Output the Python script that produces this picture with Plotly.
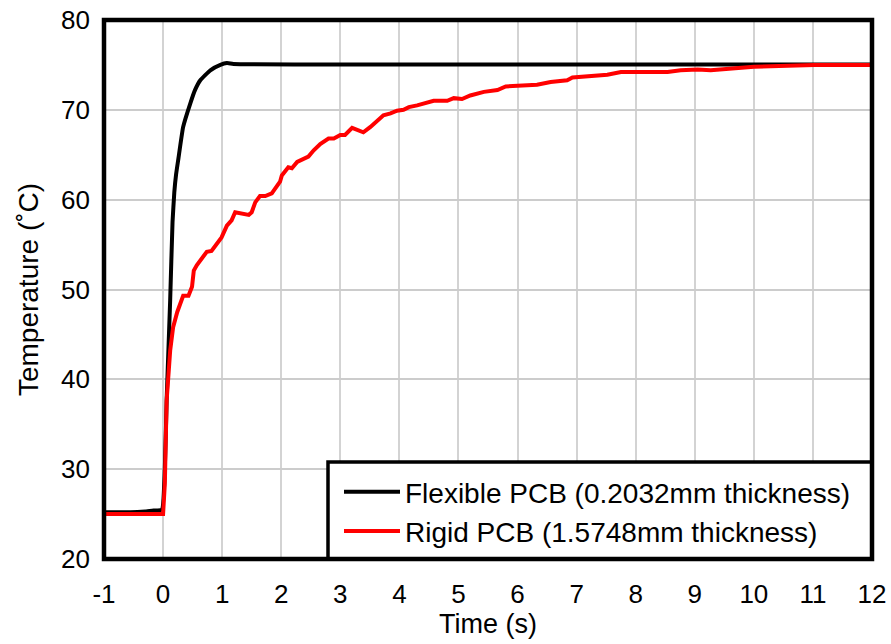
import plotly.graph_objects as go

# Flexible PCB (0.2032mm thickness)
flex_t = [-1.0, -0.55, -0.3, -0.16, -0.02, 0.03, 0.06, 0.12, 0.16, 0.19, 0.22, 0.26, 0.34, 0.46,
          0.54, 0.63, 0.80, 0.97, 1.08, 1.19, 3.0, 6.0, 9.0, 12.0]
flex_T = [25.2, 25.2, 25.3, 25.4, 25.5, 30.2, 37.6, 48.8, 57.5, 60.8, 62.8, 64.6, 68.1, 70.7,
          72.2, 73.3, 74.4, 75.0, 75.2, 75.1, 75.05, 75.05, 75.05, 75.05]

# Rigid PCB (1.5748mm thickness)
rigid_t = [-1.0, -0.02, 0.0, 0.03, 0.06, 0.12, 0.17, 0.24, 0.34, 0.43, 0.49, 0.52, 0.57,
           0.74, 0.82, 0.99, 1.08, 1.16, 1.22, 1.45, 1.50, 1.56, 1.64, 1.73, 1.84, 1.98,
           2.01, 2.12, 2.18, 2.27, 2.38, 2.46, 2.55, 2.66, 2.80, 2.89, 3.00, 3.08, 3.20,
           3.31, 3.39, 3.51, 3.62, 3.73, 3.85, 3.96, 4.07, 4.16, 4.30, 4.44, 4.58, 4.81,
           4.92, 5.06, 5.20, 5.43, 5.66, 5.80, 6.05, 6.33, 6.56, 6.84, 6.93, 7.24, 7.52,
           7.75, 8.03, 8.25, 8.54, 8.76, 9.05, 9.27, 10.0, 11.02, 12.0]
rigid_T = [25.0, 25.0, 25.0, 28.4, 37.6, 43.2, 45.8, 47.5, 49.3, 49.3, 50.3, 52.1, 52.7,
           54.2, 54.3, 55.8, 57.1, 57.7, 58.6, 58.3, 58.6, 59.7, 60.4, 60.4, 60.7, 62.0,
           62.7, 63.6, 63.5, 64.2, 64.6, 64.8, 65.5, 66.2, 66.8, 66.8, 67.2, 67.2, 68.0,
           67.7, 67.5, 68.1, 68.7, 69.4, 69.6, 69.9, 70.0, 70.3, 70.5, 70.8, 71.0, 71.0,
           71.3, 71.2, 71.6, 72.0, 72.2, 72.6, 72.7, 72.8, 73.1, 73.3, 73.6, 73.7, 73.9,
           74.2, 74.2, 74.3, 74.2, 74.4, 74.5, 74.4, 74.8, 75.0, 75.0]

x_ticks = list(range(-1, 13))
y_ticks = list(range(20, 81, 10))

FONT = "Arial, Liberation Sans, sans-serif"

fig = go.Figure()
fig.add_trace(go.Scatter(x=flex_t, y=flex_T, mode="lines", name="Flexible PCB (0.2032mm thickness)",
                         line=dict(color="black", width=4, shape="spline", smoothing=0.4),
                         legendgroup="a"))
fig.add_trace(go.Scatter(x=rigid_t, y=rigid_T, mode="lines", name="Rigid PCB (1.5748mm thickness)",
                         line=dict(color="#ff0000", width=4), legendgroup="b"))

W, H = 891, 644
L, R, T, B = 104, 19, 20, 85
PW, PH = W - L - R, H - T - B
fig.update_layout(
    width=W, height=H,
    margin=dict(l=L, r=R, t=T, b=B, autoexpand=False),
    paper_bgcolor="white", plot_bgcolor="white",
    font=dict(family=FONT, size=26, color="black"),
    showlegend=True,
    legend=dict(x=(339 - L) / PW, y=(559 - 511.5) / PH, xanchor="left", yanchor="middle",
                bgcolor="rgba(0,0,0,0)", borderwidth=0, font=dict(size=28, family=FONT),
                tracegroupgap=0, traceorder="grouped", itemwidth=56),
    xaxis=dict(range=[-1, 12], tickvals=x_ticks, ticktext=[str(v) for v in x_ticks],
               showgrid=True, gridcolor="#d3d3d3", gridwidth=1.6, zeroline=False,
               ticks="", ticklabelstandoff=17, showline=False, automargin=False,
               tickfont=dict(size=26),
               title=dict(text="Time (s)", font=dict(size=27), standoff=0)),
    yaxis=dict(range=[20, 80], tickvals=y_ticks, ticktext=[str(v) for v in y_ticks],
               showgrid=True, gridcolor="#cccccc", gridwidth=1.6, zeroline=False,
               ticks="", ticklabelstandoff=13, showline=False, automargin=False,
               tickfont=dict(size=26),
               title=dict(text="Temperature (˚C)", font=dict(size=28), standoff=14)),
    shapes=[
        dict(type="rect", xref="paper", yref="paper", x0=(328 - L) / PW, x1=1,
             y0=0, y1=(559 - 462) / PH, fillcolor="white",
             line=dict(color="black", width=3.5), layer="above"),
        dict(type="rect", xref="paper", yref="paper", x0=0, x1=1, y0=0, y1=1,
             line=dict(color="black", width=4.5), layer="above"),
    ],
)

fig.write_html("out.html")
